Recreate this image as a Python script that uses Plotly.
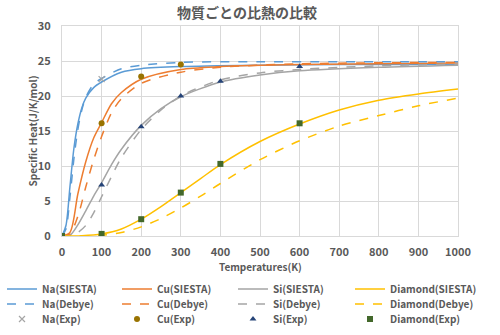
import plotly.graph_objects as go

# ---- data ----
na_T = [0, 10, 20, 30, 40, 50, 60, 80, 100, 150, 200, 300, 500, 700, 1000]
na_siesta = [0, 1.5, 7.0, 12.5, 16.0, 18.3, 19.7, 21.2, 22.0, 23.4, 23.9, 24.2, 24.4, 24.5, 24.5]
na_debye = [0, 1.0, 5.5, 11.0, 15.2, 18.0, 19.8, 21.7, 22.5, 23.9, 24.4, 24.8, 24.9, 24.9, 24.9]

cu_T = [0, 20, 40, 60, 80, 100, 125, 150, 200, 300, 400, 600, 1000]
cu_siesta = [0, 0.5, 6.0, 10.6, 14.0, 16.2, 18.9, 20.5, 22.4, 23.8, 24.2, 24.5, 24.7]
cu_debye = [0, 0.3, 2.8, 7.0, 10.9, 14.2, 17.6, 19.6, 21.8, 23.4, 24.1, 24.6, 24.8]

si_T = [0, 20, 40, 60, 80, 100, 125, 150, 200, 250, 300, 400, 500, 600, 800, 1000]
si_siesta = [0, 0.1, 1.6, 3.6, 5.7, 7.6, 10.2, 12.4, 15.8, 18.2, 19.9, 22.0, 23.0, 23.6, 24.1, 24.4]
si_debye = [0, 0.0, 0.5, 1.5, 3.3, 5.6, 8.5, 11.2, 15.2, 18.0, 20.0, 22.3, 23.3, 23.8, 24.3, 24.55]

dia_T = [0, 50, 100, 150, 200, 250, 300, 350, 400, 500, 600, 700, 800, 900, 1000]
dia_siesta = [0, 0.05, 0.3, 1.0, 2.4, 4.2, 6.2, 8.2, 10.2, 13.5, 16.0, 18.0, 19.4, 20.3, 21.0]
dia_debye = [0, 0.0, 0.1, 0.5, 1.3, 2.5, 4.0, 5.7, 7.5, 10.9, 13.6, 15.7, 17.2, 18.6, 19.7]

na_exp_T = [0, 100]
na_exp = [0, 22.4]
cu_exp_T = [0, 100, 200, 300]
cu_exp = [0, 16.1, 22.8, 24.5]
si_exp_T = [0, 100, 200, 300, 400, 600]
si_exp = [0, 7.3, 15.6, 20.0, 22.1, 24.2]
dia_exp_T = [0, 100, 200, 300, 400, 600]
dia_exp = [0, 0.3, 2.4, 6.2, 10.3, 16.1]

x_ticks = list(range(0, 1001, 100))
y_ticks = list(range(0, 31, 5))

BLUE, ORANGE, GRAY, GOLD = "#5B9BD5", "#ED7D31", "#A5A5A5", "#FFC000"
TXT = "#595959"
FONT = "Noto Sans CJK JP"

PLOT_L, PLOT_W, PLOT_B, PLOT_H = 62.0, 396.0, 236.0, 210.0
def px_x(p):
    return (p - PLOT_L) / PLOT_W
def px_y(p):
    return (PLOT_B - p) / PLOT_H

COL_PX = [2, 117, 233, 350]
ROW_PX = [289, 304, 319]

fig = go.Figure()
legends = {}

def legend_id(row, col):
    n = row * 4 + col + 1
    lid = "legend" if n == 1 else f"legend{n}"
    legends[lid] = dict(x=px_x(COL_PX[col]), xanchor="left",
                        y=px_y(ROW_PX[row]), yanchor="middle",
                        font=dict(size=10, color=TXT, family=FONT, weight="bold"),
                        bgcolor="rgba(0,0,0,0)", borderwidth=0, itemwidth=30)
    return lid

def curve(x, y, name, color, dash, row, col):
    fig.add_trace(go.Scatter(x=x, y=y, name=name, mode="lines",
                             legend=legend_id(row, col),
                             line=dict(color=color, width=1.5, dash=dash,
                                       shape="spline", smoothing=0.8)))

def points(x, y, name, marker, col):
    fig.add_trace(go.Scatter(x=x, y=y, name=name, mode="markers",
                             legend=legend_id(2, col), marker=marker))

curve(na_T, na_siesta, "Na(SIESTA)", BLUE, "solid", 0, 0)
curve(cu_T, cu_siesta, "Cu(SIESTA)", ORANGE, "solid", 0, 1)
curve(si_T, si_siesta, "Si(SIESTA)", GRAY, "solid", 0, 2)
curve(dia_T, dia_siesta, "Diamond(SIESTA)", GOLD, "solid", 0, 3)
curve(na_T, na_debye, "Na(Debye)", BLUE, "dash", 1, 0)
curve(cu_T, cu_debye, "Cu(Debye)", ORANGE, "dash", 1, 1)
curve(si_T, si_debye, "Si(Debye)", GRAY, "dash", 1, 2)
curve(dia_T, dia_debye, "Diamond(Debye)", GOLD, "dash", 1, 3)

points(na_exp_T, na_exp, "Na(Exp)",
       dict(symbol="x-thin", size=6, color=GRAY, line=dict(color=GRAY, width=1.2)), 0)
points(cu_exp_T, cu_exp, "Cu(Exp)", dict(symbol="circle", size=6, color="#997300"), 1)
points(si_exp_T, si_exp, "Si(Exp)", dict(symbol="triangle-up", size=6, color="#264478"), 2)
points(dia_exp_T, dia_exp, "Diamond(Exp)", dict(symbol="square", size=6, color="#43682B"), 3)

title_font = dict(size=10, color=TXT, family=FONT, weight="bold")

fig.update_layout(
    width=500, height=335,
    margin=dict(l=62, r=42, t=26, b=99, autoexpand=False),
    paper_bgcolor="white", plot_bgcolor="white",
    font=dict(family=FONT, color=TXT),
    title=dict(text="物質ごとの比熱の比較", x=0.494, xanchor="center",
               y=1 - 13 / 335, yanchor="middle",
               font=dict(size=14, color=TXT, family=FONT, weight="bold")),
    xaxis=dict(range=[0, 1000], tickvals=x_ticks, showgrid=True,
               gridcolor="#D9D9D9", gridwidth=1, zeroline=False,
               showline=True, linecolor="#D9D9D9", mirror=True,
               tickfont=dict(size=11, color=TXT, family=FONT, weight="bold"),
               ticklabelstandoff=6),
    yaxis=dict(range=[0, 30], tickvals=y_ticks, showgrid=True,
               gridcolor="#D9D9D9", gridwidth=1, zeroline=False,
               showline=True, linecolor="#D9D9D9", mirror=True,
               tickfont=dict(size=11, color=TXT, family=FONT, weight="bold"),
               ticklabelstandoff=8),
    annotations=[
        dict(text="Temperatures(K)", xref="paper", yref="paper",
             x=0.5, y=px_y(266), xanchor="center", yanchor="middle",
             showarrow=False, font=title_font),
        dict(text="Specific Heat(J/K/mol)", xref="paper", yref="paper",
             x=px_x(31.5), y=0.5, xanchor="center", yanchor="middle",
             textangle=-90, showarrow=False, font=title_font),
    ],
    showlegend=True,
    **legends,
)

fig.write_html("out.html")
